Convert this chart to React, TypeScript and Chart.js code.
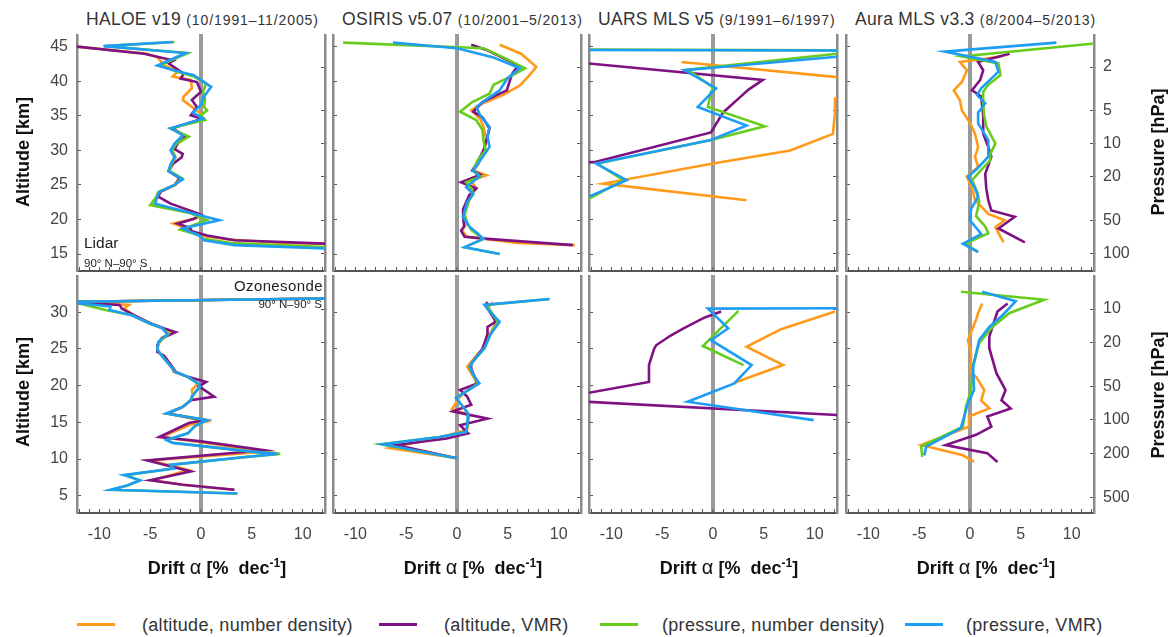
import { useEffect, useRef } from "react";
import { Chart, registerables } from "chart.js";

Chart.register(...registerables);

// each point is [altitude km, drift % per decade]
type Pt = [number, number];

// ---- HALOE v19 vs lidar ----
const haloeLidarAltNd: Pt[] = [[45.3,-14],[44,-5.3],[43.5,-4.3],[42.3,-3.6],[41.4,-2.3],[40.7,-2.8],[40.2,-1.0],[39,-0.9],[37.8,-1.7],[37.3,-1.8],[36.3,-0.9],[35.3,0],[34.5,0.1],[33.2,-2.9],[32,-1.3],[31,-2.4],[30,-2.8],[29.3,-2.6],[28,-2.8],[27,-3.1],[26,-2],[25,-2.5],[24,-4.1],[23.3,-4.2],[22.2,-4.8],[21,-1],[20.6,0],[20.1,-0.6],[19.4,-2.7],[18.8,-1.6],[18.3,-1.0],[17.6,0.2],[17.1,2.8],[16.6,8],[16.4,14]];
const haloeLidarAltVmr: Pt[] = [[45.3,-14],[44,-5.6],[43,-2.7],[42.6,-3.2],[41.1,-1.7],[40.4,-2],[39.9,-0.4],[38.5,0],[37.3,-0.9],[36.3,-0.4],[35.1,-1.0],[34.6,0.1],[33.2,-2.8],[32,-1.5],[31,-2.3],[30.2,-2.6],[29.5,-1.8],[29,-1.9],[28,-2.8],[27,-3.2],[26,-2.1],[25,-2.6],[24,-4.0],[23.3,-4.2],[22.3,-3.0],[21,-0.5],[20.7,0],[20.1,-0.7],[19.4,-2.3],[18.8,-1.1],[18.3,-0.9],[17.7,0.6],[17,3.3],[16.5,12.5],[16.4,14]];
const haloeLidarPresNd: Pt[] = [[45.7,-2.6],[45.1,-9.5],[44.1,-1.3],[42.3,-4.1],[41.4,-2.3],[40.7,-0.7],[39.7,0.5],[38.5,0.2],[37.5,0.4],[36.3,0.3],[35.8,0.6],[35.1,0],[34.4,0.4],[33.2,-3.0],[32,-1.2],[31,-2.4],[30,-2.9],[29,-2.5],[28,-2.9],[27,-3.1],[26,-1.9],[25,-2.6],[24,-4.2],[23.3,-4.4],[22.1,-5.0],[21,-1.2],[19.9,0.6],[18.5,-2.0],[17.8,-0.3],[17.2,0.2],[16.6,3],[16.0,12.5],[15.9,14]];
const haloeLidarPresVmr: Pt[] = [[45.7,-2.8],[45.1,-9.6],[44.1,-1.5],[42.3,-4.3],[41.6,-2.7],[40.9,-0.7],[39.2,1.0],[37.8,0.3],[36.6,0],[35.5,-0.8],[34.6,0.2],[33.2,-3.0],[32.2,-1.8],[31,-2.6],[30,-3.0],[29,-2.6],[28,-3.0],[27,-3.2],[25.8,-1.8],[25,-2.6],[24,-4.1],[23.3,-4.3],[22.3,-4.5],[21,-1.2],[19.9,1.8],[18.7,-1.8],[17.6,-0.1],[17,0.3],[16.3,3.3],[15.8,12.5],[15.7,14]];

// ---- HALOE v19 vs ozonesonde ----
const haloeSondeAltNd: Pt[] = [[31.9,14],[31.4,-14],[31.3,-12],[31.0,-7.1],[30.5,-7.6],[29.6,-6.6],[28.5,-5.0],[27.8,-3.7],[27.2,-2.8],[26.5,-3.9],[25.5,-4.3],[24.6,-4.3],[24,-3.6],[22.5,-2.8],[21.9,-2.7],[21.2,-1.3],[20.3,-0.3],[19.4,-0.9],[18.5,-0.8],[18,-1.0],[17.1,-1.8],[16.2,-3.3],[15.1,0.5],[14.7,-1.0],[13,-3.9],[12.4,-0.5],[11,6.4],[9.8,-5.0],[8.5,-1.2],[7.1,-4.8],[6.5,-1.8],[5.8,3.2]];
const haloeSondeAltVmr: Pt[] = [[31.9,14],[31.4,-14],[31.3,-12],[31.0,-8.0],[30.5,-7.8],[29.6,-6.6],[28.5,-5.0],[27.8,-3.6],[27.3,-2.5],[26.5,-3.8],[25.5,-4.3],[24.6,-4.3],[24,-3.6],[22.5,-2.8],[21.9,-2.5],[21.2,-1.3],[20.5,0.5],[19.9,-0.2],[18.5,1.3],[18,-1.0],[17.1,-1.8],[16.2,-3.3],[15.3,0.4],[14.9,-1.2],[13,-4.1],[12.4,0],[11.2,6.2],[9.8,-5.3],[8.3,-1.0],[7.1,-5.0],[6.5,-1.8],[5.8,3.3]];
const haloeSondePresNd: Pt[] = [[31.9,14],[31.4,-14],[31.2,-12],[30.3,-9.4],[29.6,-6.8],[28.5,-5.1],[27.8,-3.8],[27.0,-3.2],[26,-4.1],[25,-4.3],[24.3,-4.0],[22.5,-2.9],[21.9,-2.6],[21.2,-1.3],[20.3,-0.3],[19.9,-0.1],[18.5,-0.9],[18,-1.0],[17.1,-1.8],[16.2,-3.4],[15.3,0.6],[14.5,-0.6],[13.5,-1.3],[12.6,-3.3],[12.2,-2.8],[11,5],[10.7,7.8],[10.2,3.9],[9.2,-3.0],[8.7,-2.7],[7.8,-7.4],[7.1,-6.0],[6.4,-7.2],[5.8,-8.8],[5.3,3.5]];
const haloeSondePresVmr: Pt[] = [[31.9,14],[31.4,-14],[31.2,-12],[30.8,-8.9],[30.3,-9.0],[29.6,-6.8],[28.5,-5.1],[27.8,-3.8],[27.0,-3.3],[26,-4.2],[25,-4.3],[24.3,-4.0],[22.5,-2.9],[21.9,-2.6],[21.2,-1.3],[20.3,-0.3],[19.9,-0.1],[18.5,-0.9],[18,-1.0],[17.1,-1.8],[16.2,-3.4],[15.3,0.6],[14.5,-0.6],[13.5,-1.3],[12.6,-3.4],[12.2,-2.8],[11,5],[10.7,7.5],[10.2,3.9],[9.2,-3.0],[8.7,-2.7],[7.8,-7.6],[7.1,-6.0],[6.4,-7.3],[5.8,-8.9],[5.3,3.6]];

// ---- OSIRIS v5.07 vs lidar ----
const osirisLidarAltNd: Pt[] = [[45.3,4.2],[44,6.3],[42.1,7.8],[41,7.2],[39.4,6.2],[38,4.5],[36.8,2.5],[35.8,1.4],[34.5,2.3],[33.4,2.6],[31.5,2.9],[30,2.7],[28,2.1],[27.1,1.6],[26.4,2.9],[25.6,1.4],[24.5,1.9],[23.5,1.3],[22,1.0],[20.6,0.7],[19.4,0.9],[18.4,0.5],[17.5,1.0],[16.6,6],[16.3,11.6]];
const osirisLidarAltVmr: Pt[] = [[45.3,1.4],[44.5,3],[42.3,6.0],[41,5.4],[38.7,4.9],[38,3.9],[37,2.5],[35.6,1.6],[34.8,2.5],[33.2,3.2],[32,3.0],[30,2.6],[28,1.9],[27.1,1.5],[26.5,2.3],[25.4,0.4],[24.5,1.9],[23.5,1.2],[22.5,0.9],[21.5,0.6],[20.4,0.6],[19,0.7],[18.4,0.4],[17.5,0.75],[17.2,3],[16.3,11.4]];
const osirisLidarPresNd: Pt[] = [[45.6,-11.2],[44.8,2.6],[43.5,4.5],[41.9,6.7],[40.5,5],[39.5,3.6],[38.2,3.2],[37,1.5],[35.6,0.3],[34.4,1.9],[33,2.5],[31.5,2.6],[30,2.8],[28.5,2.0],[27.1,1.6],[26.2,2.3],[25.4,0.9],[24.5,1.4],[23.7,1.6],[22.8,1.2],[20.8,0.75],[19.5,1.0],[18.5,1.4],[17.2,2.6],[16,0.75],[15,4.2]];
const osirisLidarPresVmr: Pt[] = [[45.6,-6.3],[44.8,0],[43.5,3.5],[41.9,6.2],[40.5,5.0],[38.7,4.2],[37.5,3.0],[36.3,1.9],[35,2.3],[33.4,3.2],[32,3.0],[30.5,3.2],[29,2.5],[27.1,1.6],[26.2,2.2],[24.7,0.9],[23.7,1.6],[22.5,1.0],[20.4,0.6],[19,1.2],[18,2.0],[17.2,2.6],[16,0.75],[15,4.2]];

// ---- OSIRIS v5.07 vs ozonesonde ----
const osirisSondeAltNd: Pt[] = [[31.4,3.5],[30.5,3.0],[28.7,3.9],[27.5,3.4],[25,2.5],[22.6,1.0],[20.3,2.0],[19,0.7],[18.3,0.2],[16.8,-0.5],[16,1.2],[14,1.0],[13,-1.5],[11.5,-6.6],[10.1,0]];
const osirisSondeAltVmr: Pt[] = [[31.4,3.0],[31,2.8],[29.5,3.5],[28.7,3.8],[28,3.0],[27,3.0],[25,2.5],[23,1.4],[22.3,1.4],[21,1.8],[20.3,2.0],[19.4,0.3],[18.5,1.0],[17.4,1.4],[16.5,-0.4],[15.5,3.0],[14.6,0.3],[13.5,1.1],[12.8,-1.0],[11.9,-6.0],[10.1,0]];
const osirisSondePresNd: Pt[] = [[31.8,9.1],[31.0,2.9],[30,3.4],[28.7,4.0],[27,3.3],[25.1,2.7],[23.5,1.7],[22.6,1.2],[21.5,1.6],[20.3,2.1],[19.3,1.0],[18.3,-0.1],[17.3,0.5],[16.2,1.1],[14.5,1.0],[13.7,0.9],[13,-1.7],[12,-7.5],[10.1,0]];
const osirisSondePresVmr: Pt[] = [[31.8,9.1],[31.0,2.7],[30,3.3],[28.7,4.2],[27,3.3],[25.1,2.7],[23.5,1.7],[22.6,1.25],[21.5,1.6],[20.3,2.2],[19.3,1.0],[18.3,-0.1],[17.3,0.5],[16.2,1.1],[14.5,1.0],[13.7,0.9],[13,-1.7],[12,-7.3],[10.1,0]];

// ---- UARS MLS v5 vs lidar ----
const uarsLidarAltNd: Pt[] = [[42.8,-3.1],[40.6,12.3],[39,22],[37.5,12.0],[35.5,12.0],[32.4,11.8],[30,7.6],[28.1,0],[25.2,-10.8],[22.8,3.3]];
const uarsLidarAltVmr: Pt[] = [[42.7,-14],[42.6,-12.3],[40.2,4.9],[38.8,3.5],[37.5,2.5],[35.5,1.0],[32.6,-0.2],[28.3,-11.7],[28.2,-14]];
const uarsLidarPresNd: Pt[] = [[44.6,-14],[44.5,14],[44.1,14],[44.0,12.3],[41.7,-2.5],[39,0.1],[38.5,-0.2],[36.3,-0.5],[33.5,5.1],[31.5,-0.2],[28.1,-11.4],[25.7,-8.8],[23,-12.2],[22.8,-14]];
const uarsLidarPresVmr: Pt[] = [[44.55,-14],[44.45,14],[43.7,14],[43.6,12.5],[41.6,-2.8],[39,0.3],[36.3,-1.5],[33.6,3.3],[31.5,-0.2],[28.1,-11.5],[25.7,-8.5],[23.3,-12.2],[23.1,-14]];

// ---- UARS MLS v5 vs ozonesonde ----
const uarsSondeAltNd: Pt[] = [[30.1,12.0],[27.7,6.7],[25.3,3.3],[22.8,6.9],[20.4,2.1]];
const uarsSondeAltVmr: Pt[] = [[30.1,0.8],[29.3,-0.8],[27.8,-2.9],[26.8,-4.2],[25.5,-5.6],[25,-5.8],[22.8,-6.3],[20.5,-6.3],[19.0,-12.3],[18.4,-20],[17.8,-12.3],[16.0,12.3],[15.9,14]];
const uarsSondePresNd: Pt[] = [[30.2,2.5],[25.4,-1.0],[22.8,3.0]];
const uarsSondePresVmr: Pt[] = [[30.55,14],[30.5,-0.5],[27.8,1.5],[26.2,-0.2],[22.8,3.8],[20.3,2.1],[17.8,-2.5],[15.3,9.9]];

// ---- Aura MLS v3.3 vs lidar ----
const auraLidarAltNd: Pt[] = [[43.6,3.1],[42.8,-1],[41.6,-0.3],[39.9,-0.8],[38.7,-1.6],[37.3,-1.0],[35.8,-0.8],[34,0],[32.4,0.5],[30.5,0.8],[29.1,0.5],[27.6,0.8],[26.2,-0.3],[24.5,0.2],[22.8,0.5],[20.8,1.8],[19.9,3.4],[18.9,2.5],[16.7,3.3]];
const auraLidarAltVmr: Pt[] = [[44,3.9],[42.8,0.8],[41.6,1.3],[40.2,1.0],[38.7,0.2],[37.8,1.1],[35,1.3],[32.4,1.3],[30.5,1.8],[29.1,2.1],[26.6,1.5],[24.5,1.6],[22.8,1.8],[21.3,2.1],[20.4,4.4],[18.7,2.8],[16.7,5.4]];
const auraLidarPresNd: Pt[] = [[45.6,13],[43.6,-0.8],[42.6,2.8],[40.9,3.0],[39.5,1.8],[38.5,1.3],[36.8,1.3],[35,1.4],[33.5,1.6],[31,2.5],[29.5,2.0],[28.6,2.0],[27,1.0],[25.7,0.2],[24,0.7],[22.5,0.9],[20.5,0.6],[19,1.5],[18,1.8],[16.5,-0.5],[15.3,0.8]];
const auraLidarPresVmr: Pt[] = [[45.6,8.5],[44.3,-2.5],[42.8,2.5],[41.4,2.8],[39,1.1],[38,0.7],[36.8,1.5],[35.5,0.8],[33.9,0.8],[31.5,1.8],[29.1,1.8],[27.5,0.8],[26.2,-0.2],[24.5,0.5],[23.3,0.8],[21.5,0.1],[19.9,0],[17.9,1.1],[16.5,-0.7],[15.3,0.8]];

// ---- Aura MLS v3.3 vs ozonesonde ----
const auraSondeAltNd: Pt[] = [[31.2,1.2],[29.9,0.8],[29,0.6],[26.2,-0.2],[24.4,0.1],[21.7,0.1],[21.2,0.6],[19.4,1.4],[18,1.1],[16.9,1.9],[15.8,-0.1],[14.4,-0.1],[11.9,-4.8],[10.5,-0.7],[9.6,0.4]];
const auraSondeAltVmr: Pt[] = [[31.2,3.7],[30.1,2.7],[26.7,1.9],[25.1,1.9],[21.7,2.6],[19.4,3.5],[18,3.1],[16.9,4.0],[15.8,1.7],[14.4,2.1],[13.3,0.6],[11.9,-2.4],[10.8,1.7],[9.6,2.7]];
const auraSondePresNd: Pt[] = [[32.8,-0.9],[31.7,7.3],[29.9,3.9],[28,2.2],[25.8,0.9],[22.6,0.3],[19.4,0.1],[17.1,-0.4],[14.4,-0.7],[11.7,-4.8],[10.3,-4.7]];
const auraSondePresVmr: Pt[] = [[32.8,1.2],[31.5,4.5],[29.6,3.2],[28,1.9],[26.2,0.9],[22.6,0.3],[19.4,0.4],[17.6,-0.2],[14.2,-0.9],[11.7,-4.3],[10.5,-4.5]];

const seriesLabels = ["(altitude, number density)", "(altitude, VMR)", "(pressure, number density)", "(pressure, VMR)"];
const seriesColors = ["#ff9a1a", "#7f1283", "#68cc1c", "#1e9df5"];

const instruments = ["HALOE v19", "OSIRIS v5.07", "UARS MLS v5", "Aura MLS v3.3"];
const periods = ["(10/1991–11/2005)", "(10/2001–5/2013)", "(9/1991–6/1997)", "(8/2004–5/2013)"];
const driftTicks = [-10, -5, 0, 5, 10];
const driftMinorTicks = [-12, -11, -10, -9, -8, -7, -6, -5, -4, -3, -2, -1, 0, 1, 2, 3, 4, 5, 6, 7, 8, 9, 10, 11, 12];
const altTicksLidar = [15, 20, 25, 30, 35, 40, 45];
const altTicksSonde = [5, 10, 15, 20, 25, 30];
const pressTicksLidar = [2, 5, 10, 20, 50, 100];
const pressTicksSonde = [10, 20, 50, 100, 200, 500];

const lidarPanels = [
  [haloeLidarAltNd, haloeLidarAltVmr, haloeLidarPresNd, haloeLidarPresVmr],
  [osirisLidarAltNd, osirisLidarAltVmr, osirisLidarPresNd, osirisLidarPresVmr],
  [uarsLidarAltNd, uarsLidarAltVmr, uarsLidarPresNd, uarsLidarPresVmr],
  [auraLidarAltNd, auraLidarAltVmr, auraLidarPresNd, auraLidarPresVmr],
];
const sondePanels = [
  [haloeSondeAltNd, haloeSondeAltVmr, haloeSondePresNd, haloeSondePresVmr],
  [osirisSondeAltNd, osirisSondeAltVmr, osirisSondePresNd, osirisSondePresVmr],
  [uarsSondeAltNd, uarsSondeAltVmr, uarsSondePresNd, uarsSondePresVmr],
  [auraSondeAltNd, auraSondeAltVmr, auraSondePresNd, auraSondePresVmr],
];

const FONT = '"Liberation Sans", Arial, sans-serif';
Chart.defaults.font.family = FONT;

// layout in page pixels
const COL_X = [77, 333, 589, 846];
const PLOT_W = 248;
const ROW_Y = [34, 275];
const ROW_H = [237, 238];
const ROWS = [
  { altMin: 12.55, altMax: 46.85, pMin: 1.0, pMax: 145, altTicks: altTicksLidar, pTicks: pressTicksLidar },
  { altMin: 2.64, altMax: 35.08, pMin: 4.93, pMax: 693, altTicks: altTicksSonde, pTicks: pressTicksSonde },
];

function Panel({ row, col }: { row: number; col: number }) {
  const ref = useRef<HTMLCanvasElement>(null);
  const leftW = col === 0 ? 77 : 6;
  const rightW = col === 3 ? 77 : 6;
  const bottomH = row === 1 ? 45 : 6;
  const w = leftW + PLOT_W + rightW;
  const h = ROW_H[row] + bottomH;

  useEffect(() => {
    if (!ref.current) return;
    const cfg = ROWS[row];
    const series = (row === 0 ? lidarPanels : sondePanels)[col];
    const tickFont = { family: FONT, size: 16 };

    const chart = new Chart(ref.current, {
      type: "line",
      data: {
        datasets: series.map((pts, i) => ({
          label: seriesLabels[i],
          data: pts.map(([z, d]) => ({ x: d, y: z })),
          borderColor: seriesColors[i],
          backgroundColor: seriesColors[i],
          borderWidth: 2.6,
          pointRadius: 0,
          tension: 0,
          fill: false,
          order: 3 - i,
        })),
      },
      options: {
        animation: false,
        responsive: false,
        events: [],
        layout: { padding: 0, autoPadding: false },
        plugins: { legend: { display: false }, tooltip: { enabled: false } },
        scales: {
          x: {
            type: "linear",
            bounds: "data",
            min: -12.2,
            max: 12.2,
            afterBuildTicks: (s: any) => {
              s.ticks = driftMinorTicks.map((v) => ({ value: v }));
            },
            border: { color: "#555", width: 2 },
            grid: {
              drawOnChartArea: true,
              color: (c: any) => (c.tick && c.tick.value === 0 ? "#9a9a9a" : "rgba(0,0,0,0)"),
              lineWidth: (c: any) => (c.tick && c.tick.value === 0 ? 4 : 1),
              tickColor: "#555",
              tickWidth: 1,
              tickLength: -4,
            },
            ticks: {
              display: row === 1,
              autoSkip: false,
              maxRotation: 0,
              padding: 16,
              color: "#444",
              font: tickFont,
              callback: (v: any) => (driftTicks.includes(Number(v)) ? String(v) : ""),
            },
            afterFit: (s: any) => {
              s.height = bottomH;
              s.paddingLeft = 0;
              s.paddingRight = 0;
            },
          },
          y: {
            type: "linear",
            position: "left",
            bounds: "data",
            min: cfg.altMin,
            max: cfg.altMax,
            afterBuildTicks: (s: any) => {
              s.ticks = cfg.altTicks.map((v) => ({ value: v }));
            },
            border: { color: "#8a8a8a", width: 2.5 },
            grid: { drawOnChartArea: false, tickLength: -4, tickColor: "#555", tickWidth: 1 },
            ticks: { display: col === 0, padding: 13, color: "#444", font: tickFont },
            afterFit: (s: any) => {
              s.width = leftW;
              s.paddingTop = 0;
              s.paddingBottom = 0;
            },
          },
          p: {
            type: "logarithmic",
            position: "right",
            reverse: true,
            bounds: "data",
            min: cfg.pMin,
            max: cfg.pMax,
            afterBuildTicks: (s: any) => {
              s.ticks = cfg.pTicks.map((v) => ({ value: v }));
            },
            border: { color: "#8a8a8a", width: 2.5 },
            grid: { drawOnChartArea: false, tickLength: -4, tickColor: "#555", tickWidth: 1 },
            ticks: {
              display: col === 3,
              padding: 13,
              color: "#444",
              font: tickFont,
              callback: (v: any) => String(v),
            },
            afterFit: (s: any) => {
              s.width = rightW;
              s.paddingTop = 0;
              s.paddingBottom = 0;
            },
          },
        },
      },
    } as any);

    return () => chart.destroy();
  }, [row, col]);

  return (
    <canvas
      ref={ref}
      width={w}
      height={h}
      style={{ position: "absolute", left: COL_X[col] - leftW, top: ROW_Y[row], width: w, height: h }}
    />
  );
}

const abs = (extra: any) => ({ position: "absolute" as const, whiteSpace: "nowrap" as const, ...extra });

export default function App() {
  return (
    <div
      style={{
        position: "absolute",
        left: 0,
        top: 0,
        width: 1170,
        height: 637,
        background: "#fff",
        fontFamily: FONT,
        color: "#333",
        overflow: "hidden",
      }}
    >
      {/* panel titles */}
      {instruments.map((name, c) => (
        <div key={name} style={abs({ left: COL_X[c] + 9, top: 9, lineHeight: "20px", fontSize: 17.5, letterSpacing: 0.3 })}>
          {name} <span style={{ fontSize: 14, letterSpacing: 0.9 }}>{periods[c]}</span>
        </div>
      ))}

      {[0, 1].map((r) => [0, 1, 2, 3].map((c) => <Panel key={`${r}-${c}`} row={r} col={c} />))}

      {/* axis titles */}
      {[152, 392].map((cy) => (
        <div key={`a${cy}`} style={abs({ left: 23, top: cy, transform: "translate(-50%,-50%) rotate(-90deg)", fontWeight: "bold", fontSize: 18, color: "#111" })}>
          Altitude [km]
        </div>
      ))}
      {[152, 395].map((cy) => (
        <div key={`p${cy}`} style={abs({ left: 1158, top: cy, transform: "translate(-50%,-50%) rotate(-90deg)", fontWeight: "bold", fontSize: 18, color: "#111" })}>
          Pressure [hPa]
        </div>
      ))}
      {COL_X.map((x) => (
        <div key={`d${x}`} style={abs({ left: x + PLOT_W / 2 + 16, top: 567, transform: "translate(-50%,-50%)", fontWeight: "bold", fontSize: 18, color: "#111" })}>
          Drift <span style={{ fontWeight: "normal", fontSize: 20 }}>α</span> [%&nbsp; dec<sup style={{ fontSize: 12 }}>-1</sup>]
        </div>
      ))}

      {/* in-panel annotations */}
      <div style={abs({ left: 84, top: 234, fontSize: 15.5, color: "#222" })}>Lidar</div>
      <div style={abs({ left: 84, top: 257, fontSize: 11.5, color: "#222" })}>90° N–90° S</div>
      <div style={abs({ right: 1170 - 323, top: 277, fontSize: 15, color: "#222", letterSpacing: 0.4 })}>Ozonesonde</div>
      <div style={abs({ right: 1170 - 322, top: 298, fontSize: 11.5, color: "#222" })}>90° N–90° S</div>

      {/* legend */}
      {seriesLabels.map((lab, i) => {
        const lineX = [77, 379, 600, 905][i];
        const textX = [142, 444, 662, 966][i];
        return (
          <div key={lab}>
            <div style={{ position: "absolute", left: lineX, top: 623, width: 38, height: 3, background: seriesColors[i] }} />
            <div style={abs({ left: textX, top: 614, fontSize: 18, letterSpacing: 0.3, lineHeight: "22px", color: "#333" })}>{lab}</div>
          </div>
        );
      })}
    </div>
  );
}
